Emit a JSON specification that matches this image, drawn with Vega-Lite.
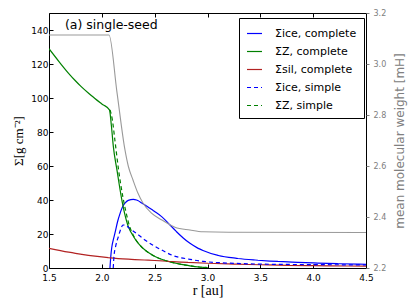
{
  "$schema": "https://vega.github.io/schema/vega-lite/v6.json",
  "width": 317,
  "height": 255,
  "autosize": {"type": "none"},
  "padding": {"left": 49, "top": 13, "right": 45, "bottom": 40},
  "config": {
    "view": {"stroke": "black", "strokeWidth": 1},
    "font": "DejaVu Sans",
    "axis": {"grid": false, "domain": false, "labelFont": "DejaVu Sans", "labelColor": "black", "tickColor": "black", "labelOverlap": false, "labelFlush": false, "labelBound": false, "titleFontWeight": "normal"}
  },
  "datasets": {
    "sigma": [
      {"r": 2.077, "sigma": 0, "series": "Σice, complete"},
      {"r": 2.085, "sigma": 7, "series": "Σice, complete"},
      {"r": 2.095, "sigma": 12.5, "series": "Σice, complete"},
      {"r": 2.11, "sigma": 17, "series": "Σice, complete"},
      {"r": 2.124, "sigma": 20.5, "series": "Σice, complete"},
      {"r": 2.15, "sigma": 27.5, "series": "Σice, complete"},
      {"r": 2.172, "sigma": 32, "series": "Σice, complete"},
      {"r": 2.2, "sigma": 36.5, "series": "Σice, complete"},
      {"r": 2.219, "sigma": 38.2, "series": "Σice, complete"},
      {"r": 2.25, "sigma": 39.8, "series": "Σice, complete"},
      {"r": 2.298, "sigma": 40.4, "series": "Σice, complete"},
      {"r": 2.34, "sigma": 39.7, "series": "Σice, complete"},
      {"r": 2.377, "sigma": 38.3, "series": "Σice, complete"},
      {"r": 2.45, "sigma": 35.3, "series": "Σice, complete"},
      {"r": 2.5, "sigma": 33.2, "series": "Σice, complete"},
      {"r": 2.566, "sigma": 30.2, "series": "Σice, complete"},
      {"r": 2.645, "sigma": 25.3, "series": "Σice, complete"},
      {"r": 2.7, "sigma": 21.8, "series": "Σice, complete"},
      {"r": 2.76, "sigma": 18.2, "series": "Σice, complete"},
      {"r": 2.834, "sigma": 14.5, "series": "Σice, complete"},
      {"r": 2.9, "sigma": 12, "series": "Σice, complete"},
      {"r": 2.957, "sigma": 10.3, "series": "Σice, complete"},
      {"r": 3.1, "sigma": 7.4, "series": "Σice, complete"},
      {"r": 3.276, "sigma": 5.7, "series": "Σice, complete"},
      {"r": 3.45, "sigma": 4.7, "series": "Σice, complete"},
      {"r": 3.591, "sigma": 4.1, "series": "Σice, complete"},
      {"r": 3.8, "sigma": 3.5, "series": "Σice, complete"},
      {"r": 4.0, "sigma": 3.0, "series": "Σice, complete"},
      {"r": 4.25, "sigma": 2.5, "series": "Σice, complete"},
      {"r": 4.5, "sigma": 2.2, "series": "Σice, complete"},

      {"r": 1.5, "sigma": 129, "series": "ΣZ, complete"},
      {"r": 1.6, "sigma": 121, "series": "ΣZ, complete"},
      {"r": 1.7, "sigma": 113.5, "series": "ΣZ, complete"},
      {"r": 1.8, "sigma": 107, "series": "ΣZ, complete"},
      {"r": 1.9, "sigma": 101.5, "series": "ΣZ, complete"},
      {"r": 2.0, "sigma": 96.5, "series": "ΣZ, complete"},
      {"r": 2.072, "sigma": 93, "series": "ΣZ, complete"},
      {"r": 2.09, "sigma": 84, "series": "ΣZ, complete"},
      {"r": 2.108, "sigma": 72, "series": "ΣZ, complete"},
      {"r": 2.146, "sigma": 56.5, "series": "ΣZ, complete"},
      {"r": 2.188, "sigma": 40.5, "series": "ΣZ, complete"},
      {"r": 2.22, "sigma": 31, "series": "ΣZ, complete"},
      {"r": 2.25, "sigma": 24.5, "series": "ΣZ, complete"},
      {"r": 2.3, "sigma": 18.5, "series": "ΣZ, complete"},
      {"r": 2.345, "sigma": 14.5, "series": "ΣZ, complete"},
      {"r": 2.42, "sigma": 10, "series": "ΣZ, complete"},
      {"r": 2.503, "sigma": 6.8, "series": "ΣZ, complete"},
      {"r": 2.6, "sigma": 4.4, "series": "ΣZ, complete"},
      {"r": 2.7, "sigma": 2.8, "series": "ΣZ, complete"},
      {"r": 2.834, "sigma": 1.3, "series": "ΣZ, complete"},
      {"r": 2.92, "sigma": 0.6, "series": "ΣZ, complete"},
      {"r": 3.0, "sigma": 0.2, "series": "ΣZ, complete"},

      {"r": 1.5, "sigma": 11.6, "series": "Σsil, complete"},
      {"r": 1.75, "sigma": 8.6, "series": "Σsil, complete"},
      {"r": 2.0, "sigma": 6.5, "series": "Σsil, complete"},
      {"r": 2.08, "sigma": 6.0, "series": "Σsil, complete"},
      {"r": 2.25, "sigma": 5.2, "series": "Σsil, complete"},
      {"r": 2.5, "sigma": 4.4, "series": "Σsil, complete"},
      {"r": 2.75, "sigma": 3.5, "series": "Σsil, complete"},
      {"r": 3.0, "sigma": 2.8, "series": "Σsil, complete"},
      {"r": 3.25, "sigma": 2.3, "series": "Σsil, complete"},
      {"r": 3.5, "sigma": 1.9, "series": "Σsil, complete"},
      {"r": 4.0, "sigma": 1.4, "series": "Σsil, complete"},
      {"r": 4.5, "sigma": 1.1, "series": "Σsil, complete"},

      {"r": 2.108, "sigma": 0, "series": "Σice, simple"},
      {"r": 2.115, "sigma": 7, "series": "Σice, simple"},
      {"r": 2.13, "sigma": 12.5, "series": "Σice, simple"},
      {"r": 2.156, "sigma": 18.4, "series": "Σice, simple"},
      {"r": 2.18, "sigma": 23, "series": "Σice, simple"},
      {"r": 2.2, "sigma": 25.3, "series": "Σice, simple"},
      {"r": 2.23, "sigma": 24.8, "series": "Σice, simple"},
      {"r": 2.282, "sigma": 22.4, "series": "Σice, simple"},
      {"r": 2.35, "sigma": 19.3, "series": "Σice, simple"},
      {"r": 2.408, "sigma": 16.5, "series": "Σice, simple"},
      {"r": 2.49, "sigma": 13.2, "series": "Σice, simple"},
      {"r": 2.566, "sigma": 10.6, "series": "Σice, simple"},
      {"r": 2.67, "sigma": 7.4, "series": "Σice, simple"},
      {"r": 2.834, "sigma": 5.1, "series": "Σice, simple"},
      {"r": 2.957, "sigma": 3.9, "series": "Σice, simple"},
      {"r": 3.276, "sigma": 2.7, "series": "Σice, simple"},
      {"r": 3.591, "sigma": 2.2, "series": "Σice, simple"},
      {"r": 4.0, "sigma": 2.0, "series": "Σice, simple"},
      {"r": 4.5, "sigma": 1.8, "series": "Σice, simple"},

      {"r": 2.078, "sigma": 93, "series": "ΣZ, simple"},
      {"r": 2.1, "sigma": 87, "series": "ΣZ, simple"},
      {"r": 2.124, "sigma": 75, "series": "ΣZ, simple"},
      {"r": 2.16, "sigma": 57, "series": "ΣZ, simple"},
      {"r": 2.2, "sigma": 41.5, "series": "ΣZ, simple"},
      {"r": 2.23, "sigma": 32.5, "series": "ΣZ, simple"},
      {"r": 2.26, "sigma": 25, "series": "ΣZ, simple"},
      {"r": 2.3, "sigma": 19, "series": "ΣZ, simple"},
      {"r": 2.345, "sigma": 14.6, "series": "ΣZ, simple"},
      {"r": 2.42, "sigma": 10, "series": "ΣZ, simple"},
      {"r": 2.503, "sigma": 6.8, "series": "ΣZ, simple"},
      {"r": 2.6, "sigma": 4.4, "series": "ΣZ, simple"},
      {"r": 2.7, "sigma": 2.8, "series": "ΣZ, simple"},
      {"r": 2.834, "sigma": 1.3, "series": "ΣZ, simple"},
      {"r": 2.92, "sigma": 0.6, "series": "ΣZ, simple"},
      {"r": 3.0, "sigma": 0.2, "series": "ΣZ, simple"}
    ],
    "mu": [
      {"r": 1.5, "mu": 3.114},
      {"r": 2.068, "mu": 3.114},
      {"r": 2.143, "mu": 2.89},
      {"r": 2.219, "mu": 2.663},
      {"r": 2.25, "mu": 2.6},
      {"r": 2.295, "mu": 2.545},
      {"r": 2.34, "mu": 2.495},
      {"r": 2.389, "mu": 2.455},
      {"r": 2.47, "mu": 2.415},
      {"r": 2.569, "mu": 2.388},
      {"r": 2.692, "mu": 2.36},
      {"r": 2.834, "mu": 2.349},
      {"r": 2.957, "mu": 2.342},
      {"r": 3.2, "mu": 2.34},
      {"r": 4.5, "mu": 2.339}
    ]
  },
  "layer": [
    {
      "data": {"name": "sigma"},
      "mark": {"type": "line", "strokeWidth": 1.2, "clip": true, "interpolate": "monotone"},
      "encoding": {
        "x": {
          "field": "r", "type": "quantitative",
          "scale": {"domain": [1.5, 4.5], "nice": false, "zero": false},
          "axis": {"orient": "bottom", "values": [1.5, 2.0, 2.5, 3.0, 3.5, 4.0, 4.5], "format": ".1f", "labelFontSize": 9, "tickSize": -4, "labelPadding": 9, "title": "r [au]", "titleFont": "Liberation Serif", "titleFontSize": 14, "titlePadding": 1}
        },
        "y": {
          "field": "sigma", "type": "quantitative",
          "scale": {"domain": [0, 150], "nice": false},
          "axis": {"orient": "left", "values": [0, 20, 40, 60, 80, 100, 120, 140], "labelFontSize": 9, "tickSize": -4, "labelPadding": 5, "title": "Σ[g cm⁻²]", "titleFont": "Liberation Serif", "titleFontSize": 13, "titlePadding": 5}
        },
        "color": {
          "field": "series", "type": "nominal",
          "scale": {"domain": ["Σice, complete", "ΣZ, complete", "Σsil, complete", "Σice, simple", "ΣZ, simple"], "range": ["#0000ff", "#008000", "#b22222", "#0000ff", "#008000"]},
          "legend": {"orient": "none", "legendX": 190, "legendY": 5, "title": null, "symbolType": "stroke", "symbolSize": 225, "symbolStrokeWidth": 1.2, "labelFontSize": 11, "labelFont": "DejaVu Sans", "strokeColor": "black", "fillColor": "white", "padding": 7, "rowPadding": 4, "labelOffset": 12, "cornerRadius": 0}
        },
        "strokeDash": {
          "field": "series", "type": "nominal",
          "scale": {"domain": ["Σice, complete", "ΣZ, complete", "Σsil, complete", "Σice, simple", "ΣZ, simple"], "range": [[20, 0], [20, 0], [20, 0], [4, 3], [4, 3]]},
          "legend": {"orient": "none", "legendX": 190, "legendY": 5, "title": null, "symbolType": "stroke", "symbolSize": 225, "symbolStrokeWidth": 1.2, "labelFontSize": 11, "labelFont": "DejaVu Sans", "strokeColor": "black", "fillColor": "white", "padding": 7, "rowPadding": 4, "labelOffset": 12, "cornerRadius": 0}
        }
      }
    },
    {
      "data": {"name": "mu"},
      "mark": {"type": "line", "color": "#999999", "strokeWidth": 1.1, "clip": true, "interpolate": "monotone"},
      "encoding": {
        "x": {"field": "r", "type": "quantitative", "axis": null},
        "y": {
          "field": "mu", "type": "quantitative",
          "scale": {"domain": [2.2, 3.2], "nice": false, "zero": false},
          "axis": {"orient": "right", "values": [2.2, 2.4, 2.6, 2.8, 3.0, 3.2], "format": ".1f", "labelFontSize": 8, "labelColor": "#808080", "tickColor": "#808080", "tickSize": 3, "labelPadding": 4, "title": "mean molecular weight [mH]", "titleColor": "#808080", "titleFontSize": 12, "titleFont": "DejaVu Sans", "titleAngle": 270, "titleBaseline": "middle", "titlePadding": 14}
        }
      }
    },
    {
      "data": {"values": [{}]},
      "mark": {"type": "text", "align": "left", "baseline": "middle", "fontSize": 12.5, "font": "DejaVu Sans", "color": "black"},
      "encoding": {
        "x": {"datum": 1.651, "type": "quantitative", "axis": {"orient": "top", "values": [1.5, 2.0, 2.5, 3.0, 3.5, 4.0, 4.5], "labels": false, "tickSize": -4, "title": null}},
        "y": {"datum": 143, "type": "quantitative", "scale": {"domain": [0, 150], "nice": false}, "axis": null},
        "text": {"value": "(a) single-seed"}
      }
    }
  ],
  "resolve": {"scale": {"y": "independent"}, "axis": {"x": "independent"}}
}
